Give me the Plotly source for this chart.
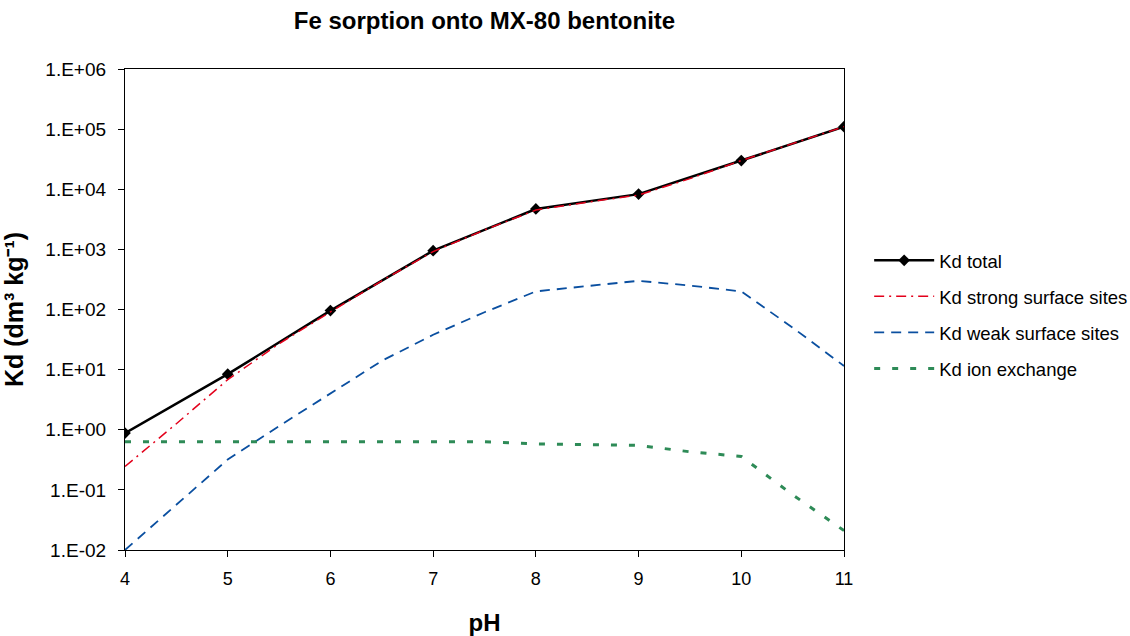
import plotly.graph_objects as go

ph_total = [4, 5, 6, 7, 8, 9, 10, 11]
kd_total = [0.88, 8.4, 96, 950, 4700, 8300, 30000, 110000]

ph_half = [4, 4.5, 5, 5.5, 6, 6.5, 7, 7.5, 8, 8.5, 9, 9.5, 10, 10.5, 11]
kd_strong = [0.245, 1.26, 6.8, 27, 91, 300, 920, 2100, 4500, 6100, 8000, 15000, 30000, 57000, 110000]
kd_weak = [0.01, 0.056, 0.32, 1.15, 4.0, 14, 38, 90, 200, 245, 300, 250, 200, 50, 11.5]
kd_ion = [0.63, 0.63, 0.63, 0.63, 0.63, 0.63, 0.63, 0.63, 0.58, 0.56, 0.55, 0.43, 0.36, 0.083, 0.021]

ytick_vals = [1e-2, 1e-1, 1, 1e1, 1e2, 1e3, 1e4, 1e5, 1e6]
ytick_text = ["1.E-02", "1.E-01", "1.E+00", "1.E+01", "1.E+02", "1.E+03", "1.E+04", "1.E+05", "1.E+06"]

fig = go.Figure()
fig.add_trace(go.Scatter(
    x=ph_total, y=kd_total, name="Kd total", mode="lines+markers",
    line=dict(color="black", width=2.5),
    marker=dict(symbol="diamond", size=9, color="black"),
    legendgroup="a"))
fig.add_trace(go.Scatter(
    x=ph_half, y=kd_strong, name="Kd strong surface sites", mode="lines",
    line=dict(color="#e3001b", width=1.5, dash="10px,5px,2px,5px"),
    legendgroup="b"))
fig.add_trace(go.Scatter(
    x=ph_half, y=kd_weak, name="Kd weak surface sites", mode="lines",
    line=dict(color="#0a4fa0", width=1.8, dash="10px,7px"),
    legendgroup="c"))
fig.add_trace(go.Scatter(
    x=ph_half, y=kd_ion, name="Kd ion exchange", mode="lines",
    line=dict(color="#2e8b57", width=3, dash="6px,12px"),
    legendgroup="d"))

font_family = "Liberation Sans, Arial, sans-serif"
fig.update_layout(
    width=1130, height=636,
    margin=dict(l=125, r=286, t=69, b=86, autoexpand=False),
    paper_bgcolor="white", plot_bgcolor="white",
    font=dict(family=font_family, size=18, color="black"),
    title=dict(text="<b>Fe sorption onto MX-80 bentonite</b>",
               x=(125 + 844) / 2 / 1130, xanchor="center",
               y=1 - 21 / 636, yanchor="middle",
               font=dict(size=24, family=font_family)),
    showlegend=True,
    legend=dict(x=1.035, xanchor="left", y=0.489, yanchor="middle",
                font=dict(size=18.5, family=font_family),
                itemwidth=60, tracegroupgap=9,
                bgcolor="rgba(0,0,0,0)"),
    xaxis=dict(range=[4, 11], tickmode="array", tickvals=list(range(4, 12)),
               ticks="outside", ticklen=6, tickcolor="black",
               ticklabelstandoff=6, automargin=False,
               tickfont=dict(size=18),
               showline=True, linecolor="black", linewidth=1.2, mirror=True,
               showgrid=False, zeroline=False,
               title=dict(text="<b>pH</b>", font=dict(size=24), standoff=28)),
    yaxis=dict(type="log", range=[-2, 6], tickmode="array",
               tickvals=ytick_vals, ticktext=ytick_text,
               ticks="outside", ticklen=6, tickcolor="black",
               ticklabelstandoff=8, automargin=False,
               tickfont=dict(size=19),
               showline=True, linecolor="black", linewidth=1.2, mirror=True,
               showgrid=False, zeroline=False,
               title=dict(text="<b>Kd (dm³ kg⁻¹)</b>",
                          font=dict(size=25), standoff=14)),
)

fig.write_html("out.html")
